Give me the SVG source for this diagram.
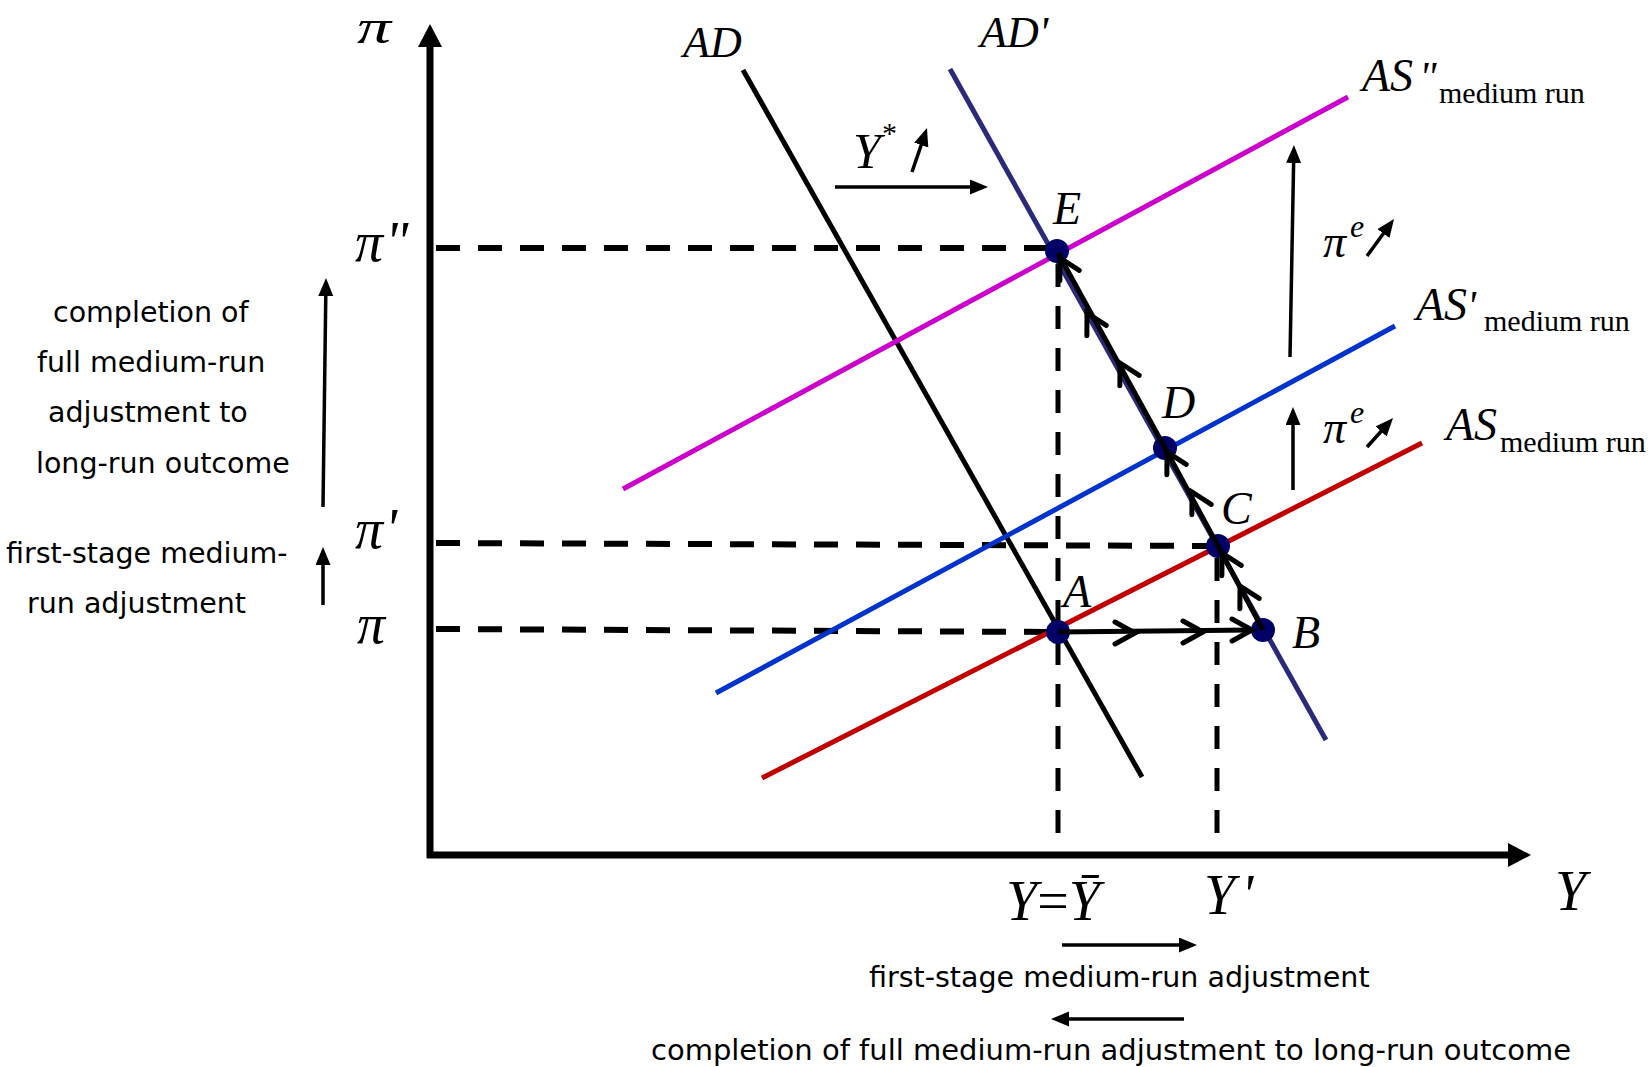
<svg xmlns="http://www.w3.org/2000/svg" width="1652" height="1067" viewBox="0 0 1652 1067">
<style>
.m{font-family:"Liberation Serif","Times New Roman",serif;font-style:italic;fill:#000}
.r{font-family:"Liberation Serif","Times New Roman",serif;font-style:normal;fill:#000}
.s{font-family:"DejaVu Sans",Verdana,sans-serif;font-size:28.5px;fill:#000}
.dash{stroke:#000;stroke-width:6;stroke-dasharray:24 18;fill:none}
.vdash{stroke:#000;stroke-width:5;stroke-dasharray:23 19;fill:none}
.axis{stroke:#000;stroke-width:7;fill:none}
.arr{stroke:#000;stroke-width:3.5;fill:none;marker-end:url(#ah)}
.path{stroke:#000;stroke-width:5;fill:none}
.chev{stroke:#000;stroke-width:5;fill:none;stroke-linecap:round}
.dot{fill:#000066}
.curve{stroke-width:5;fill:none}
</style>
<defs>
<marker id="ah" markerUnits="userSpaceOnUse" markerWidth="20" markerHeight="16" refX="10" refY="7.5" orient="auto"><path d="M0,0 L18,7.5 L0,15 z" fill="#000"/></marker>
<marker id="axh" markerUnits="userSpaceOnUse" markerWidth="24" markerHeight="24" refX="7" refY="12" orient="auto"><path d="M0,0 L23,12 L0,24 z" fill="#000"/></marker>
<path id="chev" d="M-20,-11 L0,0 L-20,11"/>
</defs>

<g id="axes">
<line class="axis" x1="430" y1="858" x2="430" y2="40" marker-end="url(#axh)"/>
<line class="axis" x1="427" y1="855" x2="1515" y2="855" marker-end="url(#axh)"/>
<text class="m" x="357" y="43" font-size="48" textLength="34" lengthAdjust="spacingAndGlyphs">π</text>
<text class="m" x="1555" y="910" font-size="56">Y</text>
</g>

<g id="guides">
<line class="dash" x1="436" y1="248" x2="1050" y2="248"/>
<line class="dash" x1="436" y1="543" x2="1217" y2="546"/>
<line class="dash" x1="436" y1="629" x2="1058" y2="632"/>
<line class="vdash" x1="1058" y1="833" x2="1058" y2="251"/>
<line class="vdash" x1="1217" y1="833" x2="1217" y2="546"/>
<text class="m" x="355" y="261" font-size="56">π<tspan dx="2">"</tspan></text>
<text class="m" x="355" y="548" font-size="56">π<tspan dx="2">'</tspan></text>
<text class="m" x="357" y="643" font-size="56">π</text>
<text class="m" x="1006" y="920" font-size="56">Y<tspan class="r">=</tspan>Ȳ</text>
<text class="m" x="1204" y="914" font-size="56">Y<tspan dx="6">'</tspan></text>
</g>

<g id="AD">
<line class="curve" stroke="#000" stroke-width="4.5" x1="743" y1="70" x2="1142" y2="777"/>
<text class="m" x="683" y="57" font-size="44">AD</text>
</g>
<g id="ADprime">
<line class="curve" stroke="#2a2a78" x1="950" y1="69" x2="1326" y2="740"/>
<text class="m" x="980" y="47" font-size="44">AD'</text>
</g>
<g id="AS2">
<line class="curve" stroke="#cc00cc" x1="623" y1="489" x2="1348" y2="97"/>
<text class="m" x="1362" y="91" font-size="46">AS</text>
<text class="m" x="1419" y="91" font-size="42">"</text>
<text class="r" x="1439" y="103" font-size="30">medium run</text>
</g>
<g id="AS1">
<line class="curve" stroke="#0033cc" x1="716" y1="693" x2="1395" y2="326"/>
<text class="m" x="1416" y="320" font-size="46">AS</text>
<text class="m" x="1467" y="320" font-size="42">'</text>
<text class="r" x="1484" y="331" font-size="30">medium run</text>
</g>
<g id="AS0">
<line class="curve" stroke="#c00000" x1="762" y1="778" x2="1422" y2="443"/>
<text class="m" x="1446" y="440" font-size="46">AS</text>
<text class="r" x="1500" y="452" font-size="30">medium run</text>
</g>

<g id="ptE"><circle class="dot" cx="1057" cy="251" r="12"/><text class="m" x="1053" y="224" font-size="46">E</text></g>
<g id="ptD"><circle class="dot" cx="1165" cy="448" r="12"/><text class="m" x="1162" y="418" font-size="46">D</text></g>
<g id="ptC"><circle class="dot" cx="1218" cy="546" r="12"/><text class="m" x="1221" y="524" font-size="46">C</text></g>
<g id="ptA"><circle class="dot" cx="1058" cy="632" r="12"/><text class="m" x="1063" y="607" font-size="46">A</text></g>
<g id="ptB"><circle class="dot" cx="1263" cy="630" r="12"/><text class="m" x="1292" y="648" font-size="46">B</text></g>

<g id="connectors">
<path class="path" d="M1058,632 L1252,630"/>
<path class="path" d="M1263,630 L1218,546 L1165,448 L1058,253"/>
<use href="#chev" class="chev" transform="translate(1135,633)"/>
<use href="#chev" class="chev" transform="translate(1203,632)"/>
<use href="#chev" class="chev" transform="translate(1252,630)"/>
<use href="#chev" class="chev" transform="translate(1240,586) rotate(-118.5)"/>
<use href="#chev" class="chev" transform="translate(1222,553) rotate(-118.5)"/>
<use href="#chev" class="chev" transform="translate(1192,492) rotate(-118.5)"/>
<use href="#chev" class="chev" transform="translate(1167,452) rotate(-118.5)"/>
<use href="#chev" class="chev" transform="translate(1120,363) rotate(-118.5)"/>
<use href="#chev" class="chev" transform="translate(1087,313) rotate(-118.5)"/>
<use href="#chev" class="chev" transform="translate(1060,258) rotate(-118.5)"/>

<line class="arr" x1="835" y1="187" x2="980" y2="187"/>
<line class="arr" x1="912" y1="172" x2="924.4" y2="135.6"/>
<line class="arr" x1="1290" y1="357" x2="1293.8" y2="153"/>
<line class="arr" x1="1293" y1="490" x2="1293" y2="415"/>
<line class="arr" x1="1367" y1="256" x2="1389.3" y2="225.5"/>
<line class="arr" x1="1367" y1="447" x2="1387.7" y2="424"/>
<line class="arr" x1="323" y1="507" x2="325.9" y2="286"/>
<line class="arr" x1="323" y1="605" x2="323" y2="555"/>
<line class="arr" x1="1062" y1="945" x2="1189" y2="945"/>
<line class="arr" x1="1184" y1="1019" x2="1059" y2="1019"/>
</g>

<g id="labels">
<text class="m" x="853" y="168" font-size="50">Y</text>
<text class="r" x="882" y="143" font-size="30">*</text>
<text class="m" x="1323" y="257" font-size="46">π</text>
<text class="m" x="1350" y="237" font-size="32">e</text>
<text class="m" x="1323" y="443" font-size="46">π</text>
<text class="m" x="1350" y="423" font-size="32">e</text>
<text class="s" x="53" y="322">completion of</text>
<text class="s" x="37" y="372">full medium-run</text>
<text class="s" x="48" y="422">adjustment to</text>
<text class="s" x="36" y="473">long-run outcome</text>
<text class="s" x="6" y="563">first-stage medium-</text>
<text class="s" x="27" y="613">run adjustment</text>
<text class="s" x="869" y="987">first-stage medium-run adjustment</text>
<text class="s" x="651" y="1060" textLength="920" lengthAdjust="spacingAndGlyphs">completion of full medium-run adjustment to long-run outcome</text>
</g>
</svg>
